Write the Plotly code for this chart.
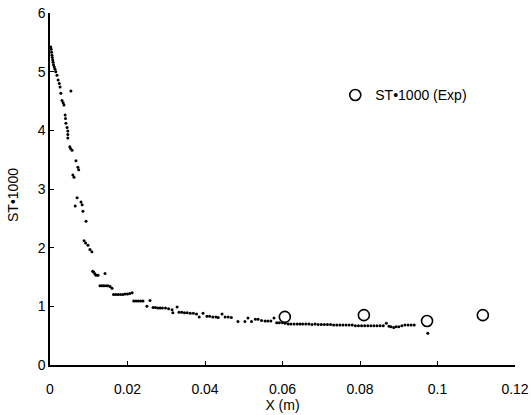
import plotly.graph_objects as go

# Numerical ST*1000 (small dots)
num_x = [0.0002, 0.0003, 0.0004, 0.0005, 0.0006, 0.0007, 0.0008, 0.0009, 0.0011, 0.0013,
         0.0015, 0.0018, 0.0021, 0.0024, 0.0026, 0.0028, 0.0031, 0.0034, 0.0036, 0.0039,
         0.0040, 0.0041, 0.0044, 0.0046, 0.0046, 0.0046, 0.0051, 0.0053, 0.0057, 0.0067,
         0.0072, 0.0074, 0.0059, 0.0062, 0.0070, 0.0065, 0.0080, 0.0083, 0.0085, 0.0093,
         0.0088, 0.0092, 0.0098, 0.0103, 0.0108, 0.0110, 0.0113, 0.0116, 0.0119, 0.0124,
         0.0142, 0.0129, 0.0134, 0.0139, 0.0145, 0.0150, 0.0155, 0.0160, 0.0164, 0.0170,
         0.0176, 0.0182, 0.0188, 0.0194, 0.0200, 0.0206, 0.0212, 0.0216, 0.0222, 0.0228,
         0.0234, 0.0240, 0.0258, 0.0250, 0.0266, 0.0272, 0.0278, 0.0284, 0.0290, 0.0298,
         0.0306, 0.0315, 0.0328, 0.0317, 0.0333, 0.0340, 0.0347, 0.0354, 0.0362, 0.0370,
         0.0378, 0.0385, 0.0395, 0.0405, 0.0412, 0.0420, 0.0428, 0.0434, 0.0444, 0.0452,
         0.0460, 0.0468, 0.0485, 0.0503, 0.0511, 0.0520, 0.0530, 0.0537, 0.0546, 0.0555,
         0.0562, 0.0570, 0.0578, 0.0585, 0.0592, 0.0600, 0.0607, 0.0615, 0.0622, 0.0630,
         0.0638, 0.0645, 0.0652, 0.0660, 0.0668, 0.0676, 0.0684, 0.0692, 0.0700, 0.0708,
         0.0716, 0.0724, 0.0732, 0.0740, 0.0748, 0.0756, 0.0764, 0.0772, 0.0780, 0.0788,
         0.0796, 0.0804, 0.0812, 0.0820, 0.0828, 0.0836, 0.0844, 0.0852, 0.0860, 0.0868,
         0.0875, 0.0880, 0.0887, 0.0893, 0.0900, 0.0908, 0.0916, 0.0924, 0.0932, 0.0940,
         0.0975, 0.0054]
num_y = [5.42, 5.38, 5.33, 5.28, 5.24, 5.20, 5.16, 5.12, 5.08, 5.04,
         5.00, 4.94, 4.86, 4.80, 4.74, 4.63, 4.51, 4.47, 4.43, 4.26,
         4.20, 4.12, 4.05, 3.99, 3.93, 3.87, 3.72, 3.69, 3.66, 3.48,
         3.37, 3.33, 3.24, 3.20, 2.85, 2.71, 2.78, 2.73, 2.62, 2.45,
         2.12, 2.08, 2.04, 1.97, 1.93, 1.60, 1.58, 1.55, 1.53, 1.53,
         1.56, 1.35, 1.35, 1.35, 1.35, 1.35, 1.34, 1.31, 1.20, 1.20,
         1.20, 1.20, 1.20, 1.21, 1.21, 1.22, 1.23, 1.09, 1.09, 1.09,
         1.09, 1.09, 1.10, 1.00, 0.98, 0.98, 0.97, 0.97, 0.97, 0.97,
         0.96, 0.94, 0.99, 0.89, 0.90, 0.90, 0.89, 0.89, 0.88, 0.88,
         0.87, 0.82, 0.88, 0.83, 0.83, 0.82, 0.82, 0.81, 0.87, 0.82,
         0.82, 0.81, 0.74, 0.74, 0.80, 0.74, 0.78, 0.78, 0.76, 0.75,
         0.75, 0.75, 0.80, 0.72, 0.72, 0.72, 0.71, 0.70, 0.70, 0.70,
         0.70, 0.70, 0.70, 0.70, 0.70, 0.69, 0.70, 0.69, 0.69, 0.69,
         0.69, 0.69, 0.68, 0.68, 0.68, 0.68, 0.68, 0.68, 0.68, 0.67,
         0.67, 0.67, 0.67, 0.67, 0.67, 0.67, 0.67, 0.67, 0.67, 0.71,
         0.66, 0.65, 0.64, 0.65, 0.65, 0.67, 0.68, 0.68, 0.68, 0.68,
         0.54, 4.67]

# Experimental ST*1000 (open circles)
exp_x = [0.0606, 0.0810, 0.0973, 0.1117]
exp_y = [0.82, 0.85, 0.75, 0.85]

x_ticks = [0, 0.02, 0.04, 0.06, 0.08, 0.1, 0.12]
x_tick_labels = ["0", "0.02", "0.04", "0.06", "0.08", "0.1", "0.12"]
y_ticks = [0, 1, 2, 3, 4, 5, 6]

font_family = "Liberation Sans, Arial, sans-serif"

fig = go.Figure()
fig.add_trace(go.Scatter(
    x=num_x, y=num_y, mode="markers",
    marker=dict(color="black", size=3),
    showlegend=False, name="ST*1000"))
fig.add_trace(go.Scatter(
    x=exp_x, y=exp_y, mode="markers",
    marker=dict(symbol="circle-open", color="black", size=11, line=dict(width=1.6)),
    name="ST•1000 (Exp)"))

axis_common = dict(
    showline=True, linecolor="black", linewidth=1.5,
    ticks="inside", ticklen=4, tickwidth=1, tickcolor="black",
    showgrid=False, zeroline=False, mirror=False,
    tickfont=dict(family=font_family, size=14, color="black"),
)

fig.update_xaxes(range=[0, 0.12], tickvals=x_ticks, ticktext=x_tick_labels,
                 title=dict(text="X (m)", font=dict(family=font_family, size=14, color="black"), standoff=4),
                 ticklabelstandoff=10, automargin=False, **axis_common)
fig.update_yaxes(range=[0, 6], tickvals=y_ticks, ticksuffix="\u00a0\u00a0",
                 automargin=False, **axis_common)

fig.add_annotation(
    text="ST•1000", xref="paper", yref="paper", x=-0.0796, y=0.483,
    textangle=-90, showarrow=False, xanchor="center", yanchor="middle",
    font=dict(family=font_family, size=14, color="black"))

fig.update_layout(
    width=531, height=415,
    margin=dict(l=50, r=16, t=13, b=50),
    paper_bgcolor="white", plot_bgcolor="white",
    font=dict(family=font_family, size=14, color="black"),
    legend=dict(x=0.6135, y=0.766, xanchor="left", yanchor="middle",
                bgcolor="rgba(0,0,0,0)", font=dict(size=14)),
)

fig.write_html(
    "out.html",
    config={"displayModeBar": False},
    post_script="document.body.style.margin='0';document.body.style.overflow='hidden';",
)
